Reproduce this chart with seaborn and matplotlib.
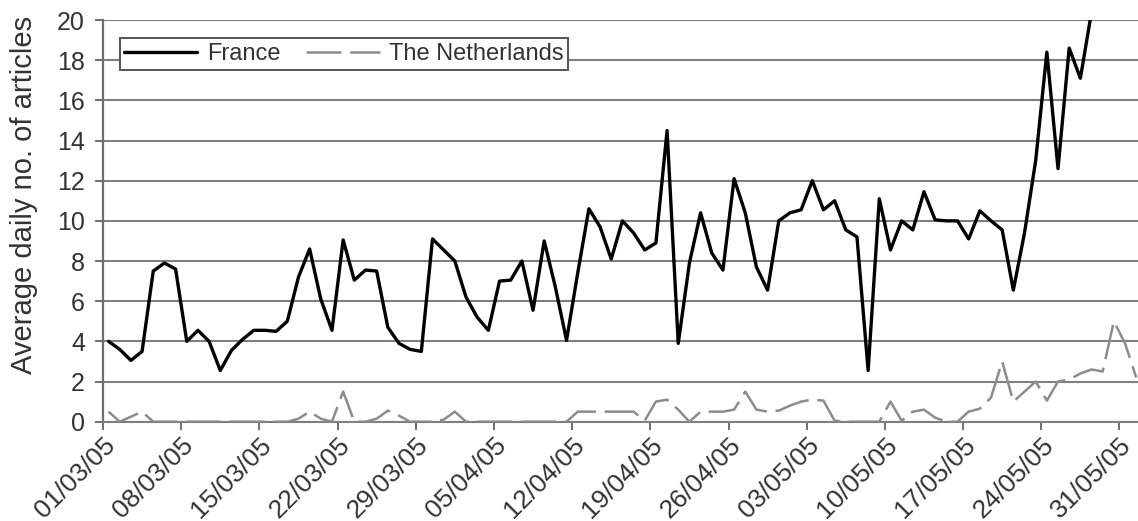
import numpy as np
import pandas as pd
import matplotlib
matplotlib.use("Agg")
import matplotlib.pyplot as plt
import matplotlib.dates as mdates
from matplotlib.transforms import ScaledTranslation
import seaborn as sns

# ---------------- data (daily values, starting 01/03/05) ----------------
start_date = "2005-03-01"

france = [4.0, 3.6, 3.05, 3.5, 7.5, 7.9, 7.6, 4.0, 4.55, 4.0,
          2.55, 3.55, 4.1, 4.55, 4.55, 4.5, 5.0, 7.2, 8.6, 6.1,
          4.55, 9.05, 7.05, 7.55, 7.5, 4.7, 3.9, 3.6, 3.5, 9.1,
          8.55, 8.0, 6.2, 5.2, 4.55, 7.0, 7.05, 8.0, 5.55, 9.0,
          6.7, 4.05, 7.4, 10.6, 9.7, 8.1, 10.0, 9.4, 8.55, 8.9,
          14.5, 3.9, 7.9, 10.4, 8.4, 7.55, 12.1, 10.4, 7.7, 6.55,
          10.0, 10.4, 10.55, 12.0, 10.55, 11.0, 9.55, 9.2, 2.55, 11.1,
          8.55, 10.0, 9.55, 11.45, 10.05, 10.0, 10.0, 9.1, 10.5, 10.0,
          9.55, 6.55, 9.4, 13.0, 18.4, 12.6, 18.6, 17.1, 20.4, 24.0]

netherlands = [0.5, 0.0, 0.25, 0.5, 0.0, 0.0, 0.0, 0.0, 0.0, 0.0,
               0.0, 0.0, 0.0, 0.0, 0.0, 0.0, 0.0, 0.15, 0.5, 0.15,
               0.0, 1.5, 0.0, 0.0, 0.15, 0.55, 0.3, 0.0, 0.0, 0.0,
               0.1, 0.5, 0.0, 0.0, 0.0, 0.0, 0.0, 0.0, 0.0, 0.0,
               0.0, 0.0, 0.5, 0.5, 0.5, 0.5, 0.5, 0.5, 0.05, 1.0,
               1.1, 0.6, 0.0, 0.5, 0.5, 0.5, 0.6, 1.5, 0.6, 0.5,
               0.55, 0.8, 1.0, 1.1, 1.05, 0.05, 0.0, 0.0, 0.0, 0.0,
               1.0, 0.05, 0.5, 0.6, 0.2, 0.0, 0.0, 0.5, 0.65, 1.2,
               3.0, 1.0, 1.5, 2.0, 1.05, 2.0, 2.1, 2.4, 2.6, 2.5,
               5.0, 3.9, 2.2]

series_names = ["France", "The Netherlands"]
tick_labels = ["01/03/05", "08/03/05", "15/03/05", "22/03/05", "29/03/05",
               "05/04/05", "12/04/05", "19/04/05", "26/04/05", "03/05/05",
               "10/05/05", "17/05/05", "24/05/05", "31/05/05"]
y_ticks = [0, 2, 4, 6, 8, 10, 12, 14, 16, 18, 20]
y_label = "Average daily no. of articles"

# ---------------- build tables ----------------
t0 = pd.Timestamp(start_date)
fr_df = pd.DataFrame({
    "date": pd.date_range(t0 + pd.Timedelta(hours=12), periods=len(france), freq="D"),
    "value": france})
nl_df = pd.DataFrame({
    "date": pd.date_range(t0 + pd.Timedelta(hours=12), periods=len(netherlands), freq="D"),
    "value": netherlands})
tick_dates = pd.to_datetime(tick_labels, format="%d/%m/%y")

# ---------------- style ----------------
sns.set_theme(style="white")
plt.rcParams["font.family"] = ["Liberation Sans", "DejaVu Sans"]

fig = plt.figure(figsize=(11.38, 5.21), dpi=100)
ax = fig.add_axes([0.0905, 0.1906, 0.9095, 0.771])

grid_c = "#7f7f7f"
ax.yaxis.grid(True, color=grid_c, lw=1.5, zorder=0)
ax.xaxis.grid(False)
ax.set_axisbelow(True)

sns.lineplot(data=fr_df, x="date", y="value", ax=ax, color="black", lw=2.4,
             label=series_names[0], solid_joinstyle="round", zorder=4)
sns.lineplot(data=nl_df, x="date", y="value", ax=ax, color="#8c8c8c", lw=1.8,
             label=series_names[1], zorder=3)
ax.lines[-1].set_dashes((14, 3.5))

ax.set_ylim(0, 20)
ax.set_yticks(y_ticks)
ax.set_xlim(t0, t0 + pd.Timedelta(days=92.66))
ax.set_xticks(tick_dates)
ax.set_xticklabels(tick_labels, rotation=45, ha="right", rotation_mode="anchor")
offset = ScaledTranslation(19 / 100, 2 / 100, fig.dpi_scale_trans)
for lab in ax.get_xticklabels():
    lab.set_transform(lab.get_transform() + offset)

for s in ["top", "right"]:
    ax.spines[s].set_visible(False)
ax.spines["left"].set_color("#6e6e6e")
ax.spines["left"].set_linewidth(1.6)
ax.spines["bottom"].set_color(grid_c)
ax.spines["bottom"].set_linewidth(1.5)

ax.tick_params(axis="both", which="major", bottom=True, left=True, direction="out",
               length=6, width=1.4, color="#6e6e6e", labelcolor="#333333")
ax.tick_params(axis="y", labelsize=18, pad=7)
ax.tick_params(axis="x", labelsize=19, pad=2)

ax.set_xlabel("")
ax.set_ylabel(y_label, fontsize=21, color="#333333")
ax.yaxis.set_label_coords(-0.063, 0.565)

leg = ax.legend(loc="upper left", bbox_to_anchor=(0.016, 0.955), ncol=2,
                fontsize=17, frameon=True, fancybox=False, borderaxespad=0,
                handlelength=3.1, handletextpad=0.4, columnspacing=1.1,
                borderpad=0.2, labelcolor="#333333")
leg.get_frame().set_edgecolor("#555555")
leg.get_frame().set_linewidth(1.4)
leg.get_frame().set_facecolor("white")
leg.get_frame().set_alpha(1)
leg.set_zorder(6)

fig.savefig("out.png", dpi=100)
